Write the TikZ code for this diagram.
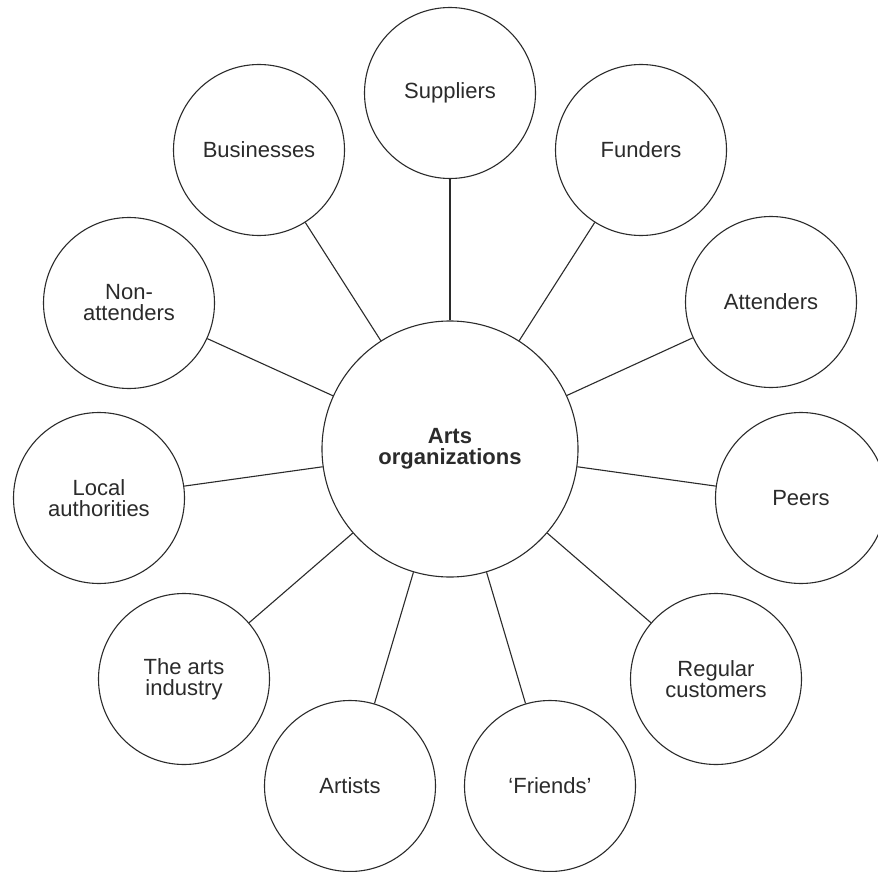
\documentclass[tikz,border=0pt]{standalone}
\usepackage{fontspec}
\setmainfont{Liberation Sans}
\definecolor{ink}{HTML}{2B2B2B}
\begin{document}
\begin{tikzpicture}[x=1pt,y=-1pt,
  hub/.style={circle,draw=ink,line width=1.1pt,minimum size=256pt,inner sep=0pt,
    align=center,text=ink,font=\fontsize{22}{21}\selectfont\bfseries},
  party/.style={circle,draw=ink,line width=1.1pt,minimum size=171pt,inner sep=0pt,
    align=center,text=ink,font=\fontsize{22}{21}\selectfont},
  link/.style={draw=ink,line width=1.1pt}]
\useasboundingbox (0,0) rectangle (878,872);
\fill[white] (0,0) rectangle (878,872);

% central organisation
\node[hub] (arts) at (450,449) {Arts\\organizations};

% stakeholders around it
\node[party] (suppliers) at (450,93)  {Suppliers};
\node[party] (funders)   at (641,150) {Funders};
\node[party] (attenders) at (771,302) {Attenders};
\node[party] (peers)     at (801,498) {Peers};
\node[party] (regular)   at (716,679) {Regular\\customers};
\node[party] (friends)   at (550,786) {‘Friends’};
\node[party] (artists)   at (350,786) {Artists};
\node[party] (industry)  at (184,679) {The arts\\industry};
\node[party] (local)     at (99,498)  {Local\\authorities};
\node[party] (nonatt)    at (129,303) {Non-\\attenders};
\node[party] (business)  at (259,150) {Businesses};

% spokes
\foreach \p in {suppliers,funders,attenders,peers,regular,friends,artists,industry,local,nonatt,business}
  \path[link] (arts) -- (\p);
\end{tikzpicture}
\end{document}
